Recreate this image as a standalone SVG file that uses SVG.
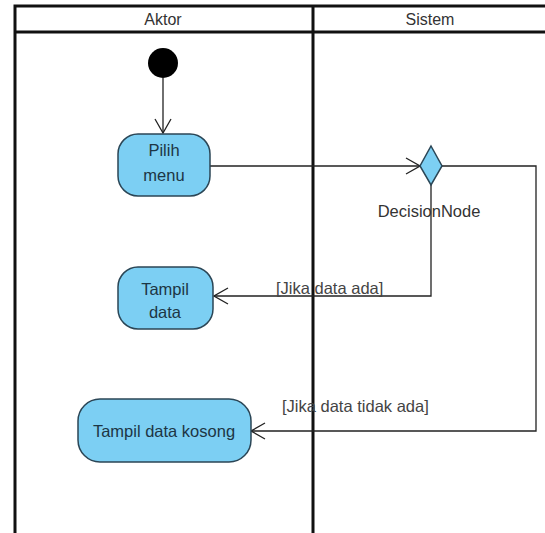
<svg xmlns="http://www.w3.org/2000/svg" width="545" height="533" viewBox="0 0 545 533">
  <defs>
    <marker id="open" viewBox="0 0 16 18" refX="15" refY="9" markerWidth="16" markerHeight="18" markerUnits="userSpaceOnUse" orient="auto">
      <path d="M1,1 L15,9 L1,17" fill="none" stroke="#222" stroke-width="1.3"/>
    </marker>
  </defs>
  <style>
    text { font-family: "Liberation Sans", Arial, sans-serif; font-size: 16.5px; }
    .lane { fill: none; stroke: #111; stroke-width: 3; }
    .head { fill: #333; text-anchor: middle; font-size: 16px; }
    .act { fill: #7ccff3; stroke: #2b4656; stroke-width: 1.5; }
    .act-t { fill: #1d3645; text-anchor: middle; }
    .flow { fill: none; stroke: #222; stroke-width: 1.3; }
    .guard { fill: #444; }
  </style>
  <rect width="545" height="533" fill="#fff"/>

  <!-- swimlanes -->
  <g id="lanes">
    <path class="lane" d="M15,533 V6 H548 M15,32 H548 M313,6 V533"/>
    <text class="head" x="163" y="25">Aktor</text>
    <text class="head" x="430" y="25">Sistem</text>
  </g>

  <!-- connectors -->
  <g id="connectors">
    <line class="flow" x1="163" y1="78" x2="163" y2="133" marker-end="url(#open)"/>
    <line class="flow" x1="210" y1="166" x2="420" y2="166" marker-end="url(#open)"/>
    <polyline class="flow" points="431,185 431,296 214,296" marker-end="url(#open)"/>
    <polyline class="flow" points="442,166 536,166 536,431 251,431" marker-end="url(#open)"/>
    <text class="guard" x="276" y="294">[Jika data ada]</text>
    <text class="guard" x="282" y="412">[Jika data tidak ada]</text>
  </g>

  <g id="initial">
    <circle cx="163" cy="63" r="15" fill="#000"/>
  </g>

  <g id="pilih-menu">
    <rect class="act" x="118" y="134" width="92" height="62" rx="20"/>
    <text class="act-t" x="164" y="156">Pilih</text>
    <text class="act-t" x="164" y="181">menu</text>
  </g>

  <g id="decision">
    <polygon class="act" points="431,146 442,166 431,185 420,166"/>
    <text x="429" y="217" fill="#333" text-anchor="middle">DecisionNode</text>
  </g>

  <g id="tampil-data">
    <rect class="act" x="118" y="267" width="95" height="62" rx="20"/>
    <text class="act-t" x="165" y="295">Tampil</text>
    <text class="act-t" x="165" y="318">data</text>
  </g>

  <g id="tampil-data-kosong">
    <rect class="act" x="78" y="399" width="173" height="63" rx="22"/>
    <text class="act-t" x="164" y="437">Tampil data kosong</text>
  </g>
</svg>
